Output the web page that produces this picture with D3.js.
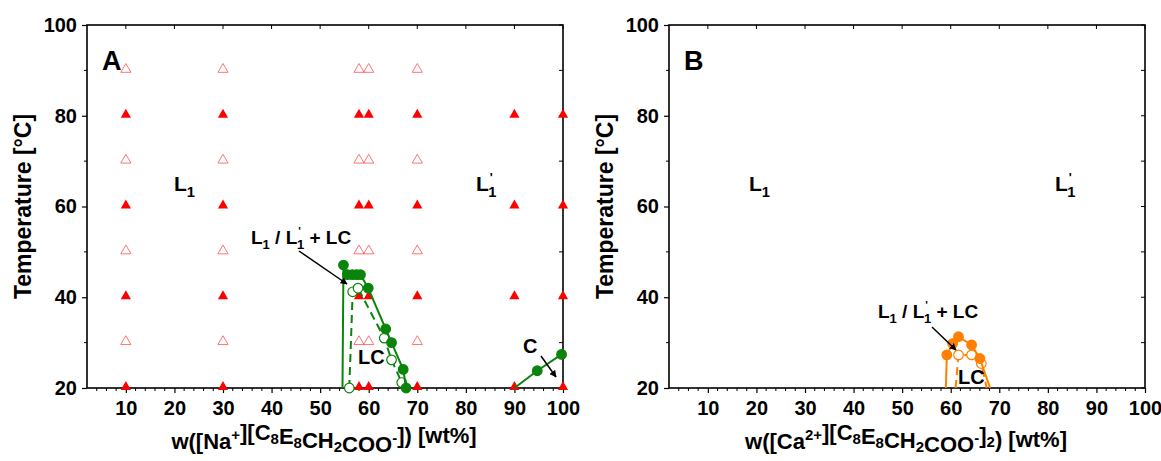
<!DOCTYPE html>
<html>
<head>
<meta charset="utf-8">
<script src="https://cdn.jsdelivr.net/npm/d3@7"></script>
<style>
  body { margin: 0; background: #fff; }
  svg { display: block; font-family: "Liberation Sans", Arial, sans-serif; font-weight: bold; }
</style>
</head>
<body>
<div id="chart"></div>
<script>
// *** Phase diagram, two panels ***

// axis ticks
let xTicks = [10, 20, 30, 40, 50, 60, 70, 80, 90, 100];
let yTicks = [20, 40, 60, 80, 100];

// sample grid (triangles) in panel A
let filledTriW = [10, 30, 58, 60, 70, 90, 100];
let filledTriT = [20, 40, 60, 80];
let openTriW = [10, 30, 58, 60, 70];
let openTriT = [30, 50, 70, 90];

// Na salt: LC boundary, heating (filled) and cooling (open)
let naSolidW = [54.6, 54.8, 55.6, 56.6, 57.5, 58.3, 59.9, 63.5, 64.7, 67.1, 67.7];
let naSolidT = [20, 47.1, 45, 45, 45, 45, 42, 33, 30, 24.1, 20];
let naOpenW = [56.0, 56.7, 57.8, 63.2, 64.7, 66.8];
let naOpenT = [20, 41.2, 42.0, 31.0, 26.2, 21.2];
// crystal boundary C
let cW = [90, 94.7, 99.7];
let cT = [20, 23.8, 27.4];

// Ca salt: LC boundary
let caSolidW = [59.0, 59.2, 60.4, 61.6, 64.3, 66.0, 68.1];
let caSolidT = [20, 27.3, 29.8, 31.3, 29.5, 26.5, 20];
let caOpenW = [61.0, 61.6, 64.3, 66.3, 67.4];
let caOpenT = [20, 27.3, 27.3, 25.4, 20];

let svgWidth = 1161;
let svgHeight = 461;

let svg = d3.select("#chart")
    .append("svg")
    .attr("width", svgWidth)
    .attr("height", svgHeight);

// arrow head
svg.append("defs").append("marker")
    .attr("id", "arrow")
    .attr("viewBox", "0 0 10 10")
    .attr("refX", 9)
    .attr("refY", 5)
    .attr("markerWidth", 7)
    .attr("markerHeight", 7)
    .attr("markerUnits", "userSpaceOnUse")
    .attr("orient", "auto")
    .append("path")
    .attr("d", "M0,0 L10,5 L0,10 Z")
    .attr("fill", "#000");

let triangle = d3.symbol().type(d3.symbolTriangle).size(45);

function zip(ws, ts) {
    return ws.map((w, i) => [w, ts[i]]);
}

// label like L1, optional prime
function phaseLabel(g, x, y, prime, size) {
    let t = g.append("text")
        .attr("x", x)
        .attr("y", y)
        .attr("font-size", size);
    t.append("tspan").text("L");
    if (prime) {
        t.append("tspan").attr("font-size", size * 0.6).attr("dy", -size * 0.45).attr("dx", 1).text("'");
        t.append("tspan").attr("font-size", size * 0.7).attr("dy", size * 0.72).attr("dx", -size * 0.22).text("1");
    } else {
        t.append("tspan").attr("font-size", size * 0.7).attr("dy", size * 0.27).text("1");
    }
    return t;
}

function mixLabel(g, x, y) {
    let size = 19;
    let t = g.append("text").attr("x", x).attr("y", y).attr("font-size", size);
    t.append("tspan").text("L");
    t.append("tspan").attr("font-size", 13).attr("dy", 5).text("1");
    t.append("tspan").attr("dy", -5).text(" / L");
    t.append("tspan").attr("font-size", 11).attr("dy", -9).attr("dx", 1).text("'");
    t.append("tspan").attr("font-size", 13).attr("dy", 14).attr("dx", -4).text("1");
    t.append("tspan").attr("dy", -5).text(" + LC");
}

function drawPanel(cfg) {
    let left = cfg.left, right = cfg.left + 476;
    let top = 25, bottom = 388;

    let x = d3.scaleLinear().domain([2, 100]).range([left, right]);
    let y = d3.scaleLinear().domain([20, 100]).range([bottom, top]);

    let g = svg.append("g");
    let minorX = d3.range(4, 100, 2).filter(d => d % 10 !== 0);
    let minorY = [30, 50, 70, 90];

    // bottom axis
    let bAxis = g.append("g")
        .attr("transform", `translate(0,${bottom})`)
        .call(d3.axisBottom(x).tickValues(xTicks).tickSize(5).tickPadding(8).tickSizeOuter(0));
    bAxis.append("g").selectAll("line").data(minorX).enter().append("line")
        .attr("x1", d => x(d)).attr("x2", d => x(d)).attr("y1", 0).attr("y2", 3)
        .attr("stroke", "#000");

    // left axis
    let lAxis = g.append("g")
        .attr("transform", `translate(${left},0)`)
        .call(d3.axisLeft(y).tickValues(yTicks).tickSize(5).tickPadding(5).tickSizeOuter(0));
    lAxis.append("g").selectAll("line").data(minorY).enter().append("line")
        .attr("y1", d => y(d)).attr("y2", d => y(d)).attr("x1", 0).attr("x2", -3)
        .attr("stroke", "#000");

    // top and right mirror ticks
    g.append("g").selectAll("line").data(xTicks).enter().append("line")
        .attr("x1", d => x(d)).attr("x2", d => x(d)).attr("y1", top).attr("y2", top + 4)
        .attr("stroke", "#000");
    g.append("g").selectAll("line").data(yTicks.concat(minorY)).enter().append("line")
        .attr("y1", d => y(d)).attr("y2", d => y(d)).attr("x1", right).attr("x2", right - 4)
        .attr("stroke", "#000");

    g.append("rect")
        .attr("x", left).attr("y", top)
        .attr("width", right - left).attr("height", bottom - top)
        .attr("fill", "none").attr("stroke", "#000").attr("stroke-width", 1.6);

    g.selectAll(".domain").remove();
    g.selectAll(".tick line").attr("stroke", "#000").attr("stroke-width", 1.2);
    g.selectAll(".tick text")
        .attr("font-size", 20)
        .attr("font-weight", "bold")
        .attr("font-family", "Liberation Sans, Arial, sans-serif")
        .attr("fill", "#000");

    // axis titles
    g.append("text")
        .attr("transform", `translate(${left - 56},${(top + bottom) / 2}) rotate(-90)`)
        .attr("text-anchor", "middle")
        .attr("font-size", 23)
        .text("Temperature [°C]");

    let xt = g.append("text")
        .attr("x", (left + right) / 2 - 1)
        .attr("y", 449)
        .attr("text-anchor", "middle")
        .attr("font-size", 22);
    cfg.title(xt);

    // panel letter
    g.append("text")
        .attr("x", left + 15)
        .attr("y", 70)
        .attr("font-size", 27)
        .text(cfg.letter);

    return { g: g, x: x, y: y };
}

function sub(t, s) {
    t.append("tspan").attr("font-size", 15).attr("dy", 4).text(s);
    t.append("tspan").attr("dy", -4).text("");
}
function sup(t, s) {
    t.append("tspan").attr("font-size", 15).attr("dy", -9).text(s);
    t.append("tspan").attr("dy", 9).text("");
}

function drawSeries(p, pts, color, opts) {
    let line = d3.line().x(d => p.x(d[0])).y(d => p.y(d[1]));
    p.g.append("path")
        .datum(pts)
        .attr("d", line)
        .attr("fill", "none")
        .attr("stroke", color)
        .attr("stroke-width", 2)
        .attr("stroke-dasharray", opts.dashed ? "8,5" : null);
    p.g.append("g").selectAll("circle")
        .data(pts.slice(opts.from, opts.to))
        .enter()
        .append("circle")
        .attr("cx", d => p.x(d[0]))
        .attr("cy", d => p.y(d[1]))
        .attr("r", 4.8)
        .attr("fill", opts.open ? "#fff" : color)
        .attr("stroke", color)
        .attr("stroke-width", 1.2);
}

function arrow(g, x1, y1, x2, y2) {
    g.append("line")
        .attr("x1", x1).attr("y1", y1).attr("x2", x2).attr("y2", y2)
        .attr("stroke", "#000").attr("stroke-width", 1.5)
        .attr("marker-end", "url(#arrow)");
}

// ---- Panel A ----
let pA = drawPanel({
    left: 87,
    letter: "A",
    title: function(t) {
        t.append("tspan").text("w([Na");
        sup(t, "+");
        t.append("tspan").text("][C");
        sub(t, "8");
        t.append("tspan").text("E");
        sub(t, "8");
        t.append("tspan").text("CH");
        sub(t, "2");
        t.append("tspan").text("COO");
        sup(t, "-");
        t.append("tspan").text("]) [wt%]");
    }
});

let filledTri = d3.cross(filledTriW, filledTriT);
let openTri = d3.cross(openTriW, openTriT);

pA.g.append("g").selectAll("path")
    .data(openTri)
    .enter()
    .append("path")
    .attr("d", triangle)
    .attr("transform", d => `translate(${pA.x(d[0])},${pA.y(d[1]) - 1})`)
    .attr("fill", "none")
    .attr("stroke", "#ff5050")
    .attr("stroke-width", 0.8);

pA.g.append("g").selectAll("path")
    .data(filledTri)
    .enter()
    .append("path")
    .attr("d", triangle)
    .attr("transform", d => `translate(${pA.x(d[0])},${pA.y(d[1]) - 1})`)
    .attr("fill", "#ff0000");

let green = "#0a840a";
drawSeries(pA, zip(naOpenW, naOpenT), green, { dashed: true, open: true, from: 0 });
drawSeries(pA, zip(naSolidW, naSolidT), green, { dashed: false, open: false, from: 1 });
drawSeries(pA, zip(cW, cT), green, { dashed: false, open: false, from: 1 });

phaseLabel(pA.g, 174, 191, false, 21);
phaseLabel(pA.g, 476, 191, true, 21);
mixLabel(pA.g, 251, 244);
arrow(pA.g, 299, 251, 347, 284);
pA.g.append("text").attr("x", 358).attr("y", 364).attr("font-size", 20).text("LC");
pA.g.append("text").attr("x", 523).attr("y", 353).attr("font-size", 20).text("C");
arrow(pA.g, 541, 356, 556, 377);

// ---- Panel B ----
let pB = drawPanel({
    left: 669,
    letter: "B",
    title: function(t) {
        t.append("tspan").text("w([Ca");
        sup(t, "2+");
        t.append("tspan").text("][C");
        sub(t, "8");
        t.append("tspan").text("E");
        sub(t, "8");
        t.append("tspan").text("CH");
        sub(t, "2");
        t.append("tspan").text("COO");
        sup(t, "-");
        t.append("tspan").text("]");
        sub(t, "2");
        t.append("tspan").text(") [wt%]");
    }
});

let orange = "#ff8000";
drawSeries(pB, zip(caOpenW, caOpenT), orange, { dashed: true, open: true, from: 1, to: 4 });
drawSeries(pB, zip(caSolidW, caSolidT), orange, { dashed: false, open: false, from: 1, to: 6 });

phaseLabel(pB.g, 749, 191, false, 21);
phaseLabel(pB.g, 1055, 191, true, 21);
mixLabel(pB.g, 878, 318);
arrow(pB.g, 932, 327, 956, 350);
pB.g.append("text").attr("x", 958).attr("y", 384).attr("font-size", 20).text("LC");
</script>
</body>
</html>
